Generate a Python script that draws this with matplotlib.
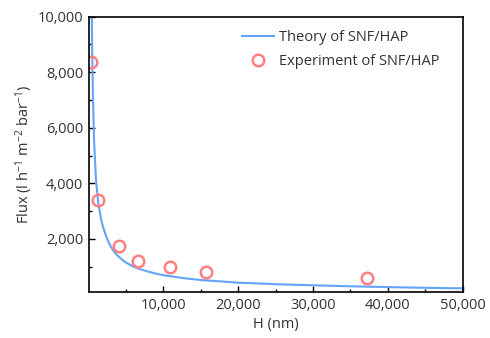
import matplotlib
matplotlib.use('Agg')
import matplotlib.pyplot as plt
from matplotlib.ticker import MultipleLocator, FuncFormatter

plt.rcParams['font.family'] = ['Open Sans', 'DejaVu Sans']
plt.rcParams['mathtext.fontset'] = 'custom'
plt.rcParams['mathtext.rm'] = 'Open Sans'
plt.rcParams['mathtext.default'] = 'rm'

# Theory curve
H_theory = [380, 440, 500, 600, 750, 1000, 1300, 1700, 2000, 2300, 2700,
            3200, 3600, 4000, 4500, 5000, 6000, 7000, 8000, 9000, 10000,
            12500, 15000, 20000, 25000, 30000, 35000, 40000, 45000, 50000]
flux_theory = [10800, 10000, 8500, 7000, 5500, 4100, 3300, 2680, 2380, 2130,
               1870, 1620, 1480, 1370, 1250, 1150, 1000, 900, 820, 750, 695,
               595, 520, 425, 370, 330, 295, 265, 240, 220]

# Experimental points
H_exp = [380, 1250, 4130, 6660, 10940, 15740, 37200]
flux_exp = [8360, 3400, 1750, 1210, 980, 820, 600]

text_color = '#333333'

fig = plt.figure(figsize=(4.9, 3.38), dpi=100)
ax = fig.add_axes([0.1822, 0.1370, 0.7621, 0.8136])

ax.plot(H_theory, flux_theory, color='#63A4F8', lw=1.5,
        label='Theory of SNF/HAP')
ax.plot(H_exp, flux_exp, 'o', ms=8.3, mfc='none', mec='#FF8080', mew=1.8,
        label='Experiment of SNF/HAP')

ax.set_xlim(100, 50000)
ax.set_ylim(100, 10000)

ax.xaxis.set_major_locator(MultipleLocator(10000))
ax.xaxis.set_minor_locator(MultipleLocator(5000))
ax.yaxis.set_major_locator(MultipleLocator(2000))
ax.yaxis.set_minor_locator(MultipleLocator(1000))
ax.xaxis.set_major_formatter(FuncFormatter(lambda v, p: f'{v:,.0f}' if v > 0 else ''))
ax.yaxis.set_major_formatter(FuncFormatter(lambda v, p: f'{v:,.0f}' if v > 0 else ''))

ax.tick_params(which='major', direction='in', length=4, width=1,
               labelsize=10.5, labelcolor=text_color, pad=4.5)
ax.tick_params(which='minor', direction='in', length=2.5, width=1)
for s in ax.spines.values():
    s.set_linewidth(1.2)
    s.set_color('black')

ax.set_xlabel('H (nm)', fontsize=10.5, color=text_color, labelpad=3)
ax.set_ylabel('Flux (l h$^{-1}$ m$^{-2}$ bar$^{-1}$)', fontsize=10.5,
              color=text_color, labelpad=2)

leg = ax.legend(loc='upper left', bbox_to_anchor=(0.409, 0.95), frameon=False,
                fontsize=10.5, handlelength=2.2, handletextpad=0.35,
                borderpad=0, borderaxespad=0, labelspacing=0.62)
for t in leg.get_texts():
    t.set_color(text_color)

fig.savefig('out.png', dpi=100)
